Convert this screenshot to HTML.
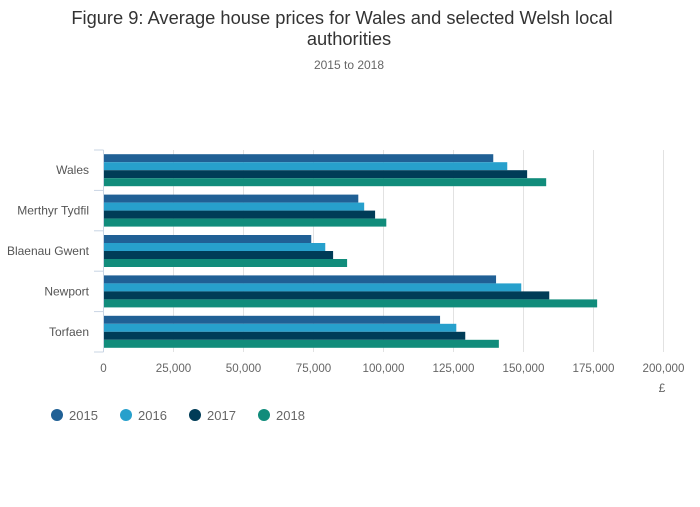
<!DOCTYPE html>
<html><head><meta charset="utf-8"><style>
body{margin:0;background:#fff;font-family:"Liberation Sans",sans-serif;}
svg text{font-family:"Liberation Sans",sans-serif;}
</style></head><body>
<svg id="chart" width="700" height="502">
<text x="342" y="24" text-anchor="middle" font-size="18.3" fill="#333">Figure 9: Average house prices for Wales and selected Welsh local</text>
<text x="349" y="45" text-anchor="middle" font-size="18.3" fill="#333">authorities</text>
<text x="349" y="69" text-anchor="middle" font-size="12" fill="#666">2015 to 2018</text>
<g id="grid"></g><g id="bars"></g><g id="axes"></g><g id="legend"></g>
</svg>
<script>
const categories=["Wales","Merthyr Tydfil","Blaenau Gwent","Newport","Torfaen"];
const years=["2015","2016","2017","2018"];
const v2015=[139200,91000,74200,140200,120200];
const v2016=[144200,93100,79200,149200,126000];
const v2017=[151300,97000,82000,159200,129200];
const v2018=[158100,101000,87000,176300,141200];
const xTicks=[0,25000,50000,75000,100000,125000,150000,175000,200000];
const colors=["#206095","#27a0cc","#003c57","#118c7b"];
const series=[v2015,v2016,v2017,v2018];
const NS="http://www.w3.org/2000/svg";
const x0=103.5,x1=663.5,y0=150,y1=352,xMax=200000;
const xs=v=>x0+(v/xMax)*(x1-x0);
const band=(y1-y0)/categories.length;
function mk(t,a,p){const e=document.createElementNS(NS,t);for(const k in a)e.setAttribute(k,a[k]);p.appendChild(e);return e;}
const grid=document.getElementById('grid'),bars=document.getElementById('bars'),axes=document.getElementById('axes'),leg=document.getElementById('legend');
xTicks.forEach((t,i)=>{
  if(i>0){const l=mk('line',{x1:xs(t),x2:xs(t),y1:y0,y2:y1,stroke:'#e2e2e2','stroke-width':1},grid);
  
  }
  const tx=mk('text',{x:xs(t),y:372,'text-anchor':'middle','font-size':11.6,fill:'#666'},axes);
  tx.textContent=t.toLocaleString('en-US');
  
  
});
const ut=mk('text',{x:662,y:392,'text-anchor':'middle','font-size':12,fill:'#666'},axes);ut.textContent='£';


const ax=mk('line',{x1:x0,x2:x0,y1:y0,y2:y1,stroke:'#c8d4e3','stroke-width':1},axes);


for(let i=0;i<=categories.length;i++){const y=y0+i*band;
  const tk=mk('line',{x1:94,x2:x0,y1:y,y2:y,stroke:'#c8d4e3','stroke-width':1},axes);
  
  
}
const bh=8;
categories.forEach((c,i)=>{
  const top=y0+i*band+(band-bh*4)/2;
  const lb=mk('text',{x:89,y:y0+i*band+band/2+4,'text-anchor':'end','font-size':12,fill:'#555'},axes);
  lb.textContent=c;
  
  
  series.forEach((s,j)=>{
    const r=mk('rect',{x:x0+0.5,y:top+j*bh,width:xs(s[i])-x0-0.5,height:bh,fill:colors[j]},bars);
    
    
  });
});
const lx=[57,126,195,264];
years.forEach((y,j)=>{
  const c=mk('circle',{cx:lx[j],cy:415,r:6,fill:colors[j]},leg);
  
  
  const t=mk('text',{x:lx[j]+12,y:420,'font-size':13,fill:'#666'},leg);t.textContent=y;
  
  
});
</script>
</body></html>
